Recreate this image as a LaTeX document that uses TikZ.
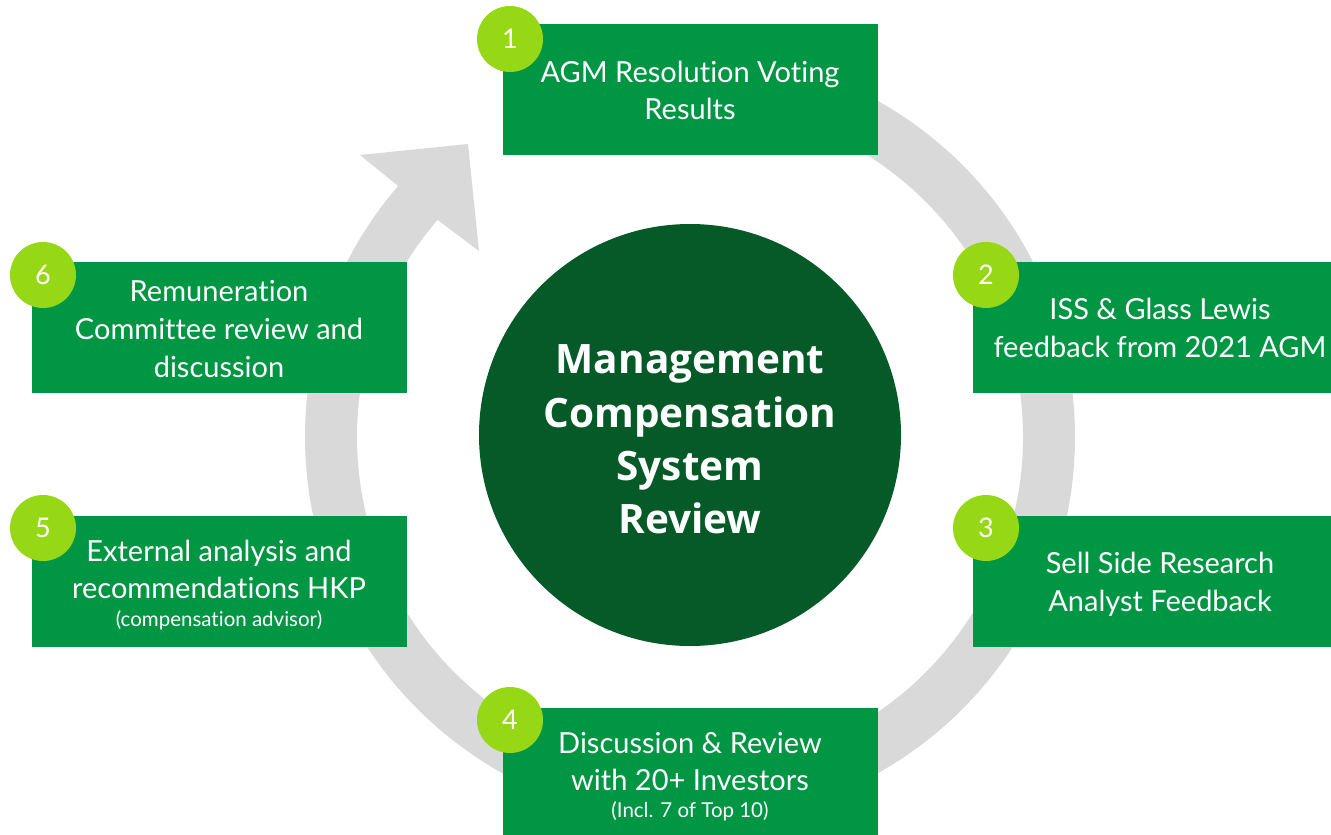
\documentclass[tikz,border=0pt]{standalone}
\usepackage{fontspec}
\setmainfont{Lato}[Ligatures=CommonOff]
\newfontfamily\hubfont{Open Sans}[Ligatures=CommonOff]
\definecolor{boxgreen}{HTML}{009644}
\definecolor{badgelime}{HTML}{97D816}
\definecolor{darkgreen}{HTML}{055A28}
\definecolor{ringgray}{HTML}{D9D9D9}
\begin{document}
\begin{tikzpicture}[x=1pt,y=-1pt,
  stepbox/.style={fill=boxgreen, draw=none, inner sep=0pt, outer sep=0pt, anchor=north west},
  badge/.style={circle, fill=badgelime, draw=none, minimum size=66pt, inner sep=0pt, text=white, font=\fontsize{27}{30}\selectfont},
  boxtxt/.style={anchor=base, text=white, inner sep=0pt, font=\fontsize{29}{32}\selectfont},
  smalltxt/.style={anchor=base, text=white, inner sep=0pt, font=\fontsize{20.5}{23}\selectfont},
  centertxt/.style={anchor=base, text=white, inner sep=0pt, font=\hubfont\fontsize{40.5}{44}\selectfont\bfseries}]
\path[use as bounding box, fill=white] (0,0) rectangle (1331,835);
% gray cycle arrow
\fill[ringgray] ([shift={(690,437)}]-139.3:385) arc[start angle=-139.3, end angle=-460, radius=385]
  -- ([shift={(690,437)}]-460:333) arc[start angle=-460, end angle=-139.3, radius=333]
  -- (479,251) -- (468,144) -- (360,155) -- cycle;
% center
\node[circle, fill=darkgreen, minimum size=422pt, inner sep=0pt] (hub) at (690,435) {};
\node[centertxt] (h1) at (690,373) {Management};
\node[centertxt] (h2) at (690,427) {Compensation};
\node[centertxt] (h3) at (690,480) {System};
\node[centertxt] (h4) at (690,533) {Review};
% boxes
\node[stepbox, minimum width=375pt, minimum height=131pt] (s1) at (503,24) {};
\node[stepbox, minimum width=375pt, minimum height=131pt] (s2) at (973,262) {};
\node[stepbox, minimum width=375pt, minimum height=131pt] (s3) at (973,516) {};
\node[stepbox, minimum width=375pt, minimum height=131pt] (s4) at (503,708) {};
\node[stepbox, minimum width=375pt, minimum height=131pt] (s5) at (32,516) {};
\node[stepbox, minimum width=375pt, minimum height=131pt] (s6) at (32,262) {};
% box texts
\node[boxtxt] (t1a) at (690,82) {AGM Resolution Voting};
\node[boxtxt] (t1b) at (690,119) {Results};
\node[boxtxt] (t2a) at (1160,319) {ISS \& Glass Lewis};
\node[boxtxt] (t2b) at (1160,357) {feedback from 2021 AGM};
\node[boxtxt] (t3a) at (1160,573) {Sell Side Research};
\node[boxtxt] (t3b) at (1160,611) {Analyst Feedback};
\node[boxtxt] (t4a) at (690,753) {Discussion \& Review};
\node[boxtxt] (t4b) at (690,790) {with 20+ Investors};
\node[smalltxt] (t4c) at (690,817) {(Incl. 7 of Top 10)};
\node[boxtxt] (t5a) at (219,561) {External analysis and};
\node[boxtxt] (t5b) at (219,598) {recommendations HKP};
\node[smalltxt] (t5c) at (219,626) {(compensation advisor)};
\node[boxtxt] (t6a) at (219,301) {Remuneration};
\node[boxtxt] (t6b) at (219,339) {Committee review and};
\node[boxtxt] (t6c) at (219,377) {discussion};
% badges
\node[badge] (n1) at (510,39) {1};
\node[badge] (n2) at (986,275) {2};
\node[badge] (n3) at (986,528) {3};
\node[badge] (n4) at (510,720) {4};
\node[badge] (n5) at (43,528) {5};
\node[badge] (n6) at (43,275) {6};
\end{tikzpicture}
\end{document}
